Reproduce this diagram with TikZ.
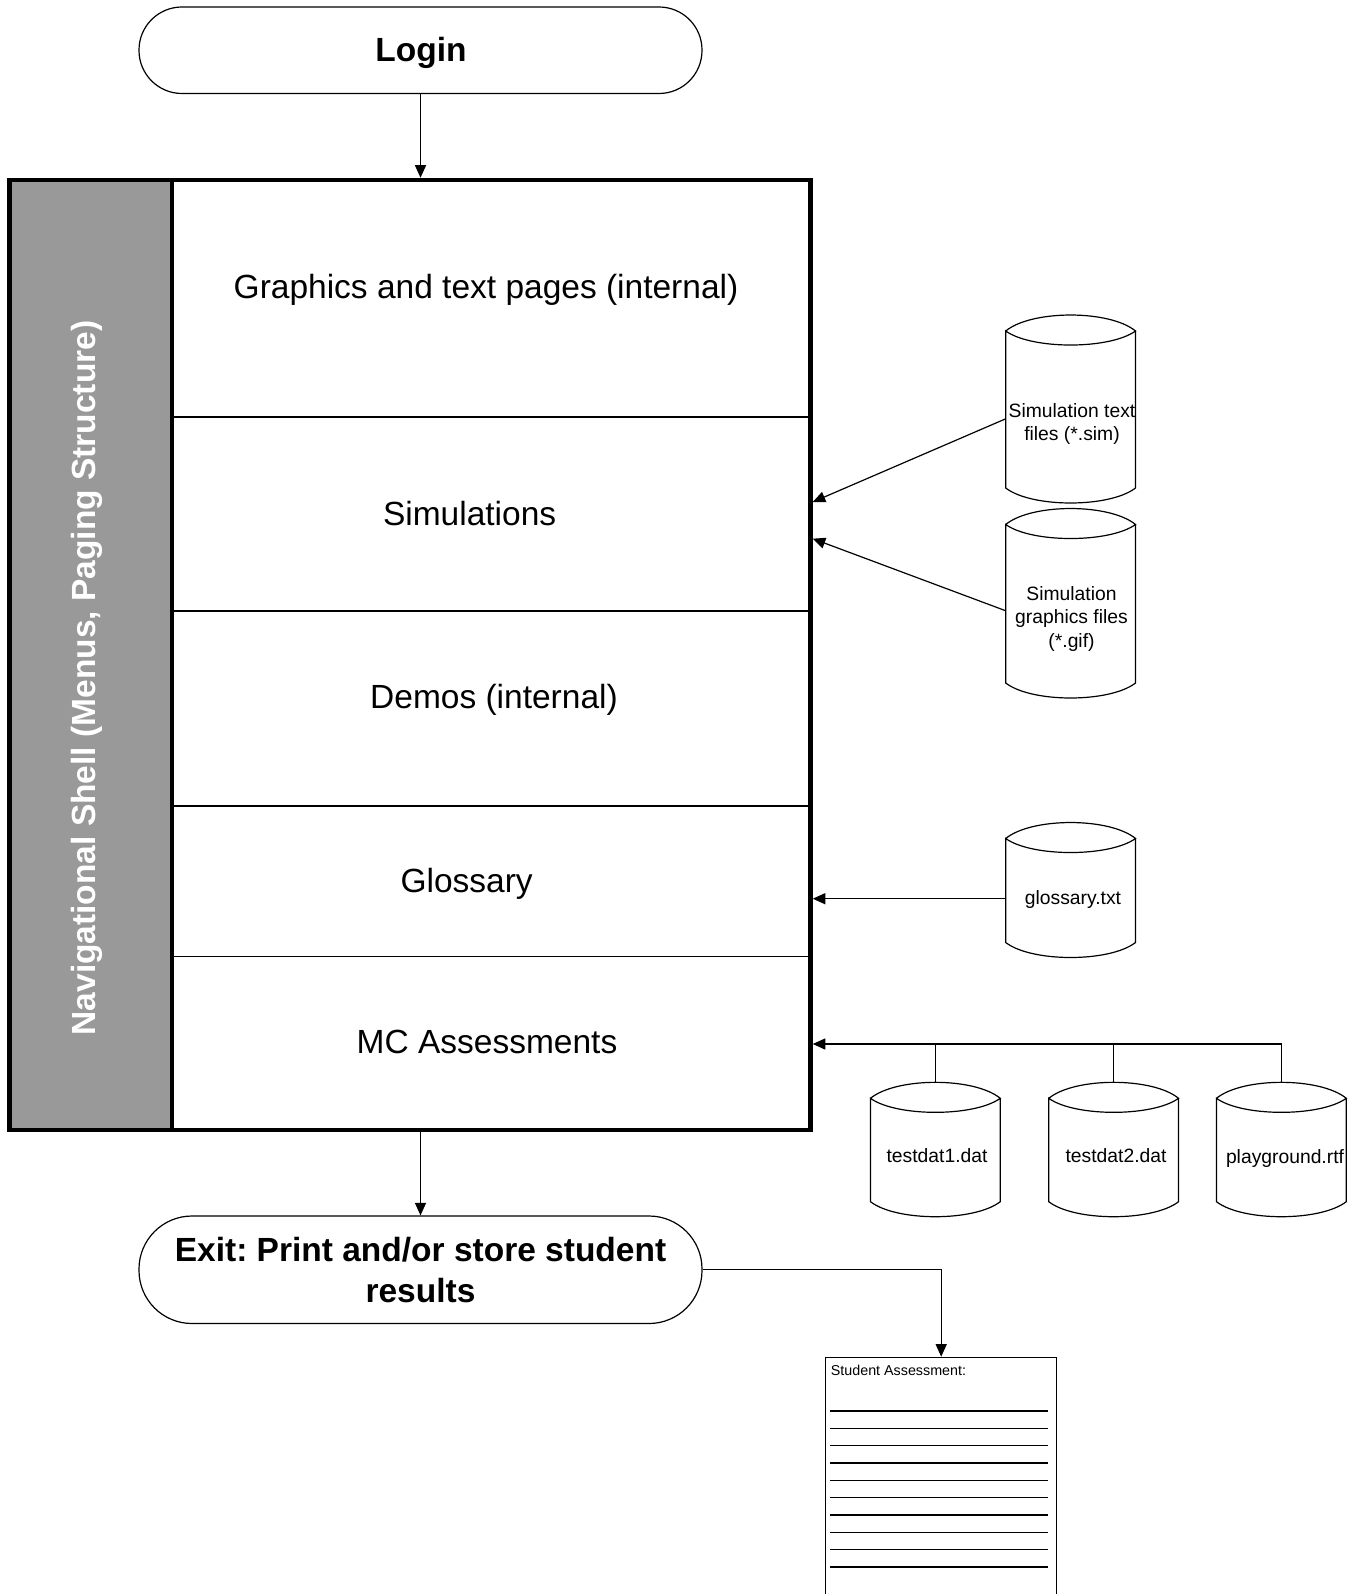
\documentclass[tikz,border=0pt]{standalone}
\usepackage{fontspec}
\setmainfont{Liberation Sans}
\usetikzlibrary{arrows.meta}
\definecolor{navgray}{HTML}{999999}
\frenchspacing
\newcommand\drawcyl[1]{%
  \draw[thinln] (#1.north west) .. controls +(26,-21.3) and +(-26,-21.3) .. (#1.north east)
     .. controls +(-26,18.7) and +(26,18.7) .. (#1.north west) -- (#1.south west)
     .. controls +(26,20) and +(-26,20) .. (#1.south east) -- (#1.north east);}
\begin{document}
\begin{tikzpicture}[x=1pt,y=-1pt,
  thinln/.style={line width=1.2pt},
  arr/.style={line width=1.2pt,-{Triangle[length=12.5pt,width=11pt]}},
  cylbody/.style={minimum width=129.8pt, inner sep=0pt, outer sep=0pt},
  bigtxt/.style={font=\fontsize{33.5}{40.7}\selectfont, inner sep=0pt},
  bigbold/.style={font=\fontsize{33.5}{40.7}\selectfont\bfseries, inner sep=0pt},
  smtxt/.style={font=\fontsize{19.3}{23.4}\selectfont, align=center, inner sep=0pt}]
\useasboundingbox (0,0) rectangle (1354,1594);
\clip (0,0) rectangle (1354,1594);
\fill[white] (0,0) rectangle (1354,1594);

% login
\node[draw, thinln, rounded corners=43pt, minimum width=563pt, minimum height=86.5pt,
      inner sep=0pt, bigbold] (login) at (420.5,50.25) {};
\node[bigbold] (logint) at (421,52.5) {Login};

% main shell
\fill[navgray] (9.5,180) rectangle (172,1130);
\draw[line width=1.8pt] (172,416.8) -- (810.5,416.8);
\draw[line width=1.8pt] (172,610.9) -- (810.5,610.9);
\draw[line width=1.8pt] (172,806.1) -- (810.5,806.1);
\draw[line width=1.8pt] (172,956.5) -- (810.5,956.5);
\draw[line width=4.5pt] (172,180) -- (172,1130);
\node[draw, line width=4.5pt, minimum width=801pt, minimum height=950pt, inner sep=0pt] (shell) at (410,655) {};

\node[bigbold, text=white, rotate=90] (nav) at (87,678) {Navigational Shell (Menus, Paging Structure)};
\node[bigtxt] (gfx) at (486,290) {Graphics and text pages (internal)};
\node[bigtxt] (sims) at (469.6,513.3) {Simulations};
\node[bigtxt] (demo) at (494,700.3) {Demos (internal)};
\node[bigtxt] (glos) at (466.6,884.3) {Glossary};
\node[bigtxt] (mc) at (487,1042) {MC Assessments};

% exit
\node[draw, thinln, rounded corners=53pt, minimum width=563pt, minimum height=107.5pt,
      inner sep=0pt, align=center, bigbold] (exit) at (420.5,1269.75)
      {Exit: Print and/or store student\\results};

% cylinders
\node[cylbody, minimum height=157pt] (c1) at (1070.6,409.5) {};
\node[cylbody, minimum height=158.5pt] (c2) at (1070.6,603.75) {};
\node[cylbody, minimum height=104pt] (c3) at (1070.6,890.5) {};
\node[cylbody, minimum height=103.4pt] (t1) at (935.35,1150) {};
\node[cylbody, minimum height=103.4pt] (t2) at (1113.65,1150) {};
\node[cylbody, minimum height=103.4pt] (t3) at (1281.35,1150) {};
\drawcyl{c1}\drawcyl{c2}\drawcyl{c3}\drawcyl{t1}\drawcyl{t2}\drawcyl{t3}

\node[smtxt] (c1t) at (1072,424.3) {Simulation text\\files (*.sim)};
\node[smtxt] (c2t) at (1071.5,619) {Simulation\\graphics files\\(*.gif)};
\node[smtxt] (c3t) at (1073,900) {glossary.txt};
\node[smtxt] (t1t) at (937,1155.8) {testdat1.dat};
\node[smtxt] (t2t) at (1116,1155.8) {testdat2.dat};
\node[smtxt] (t3t) at (1285,1158.8) {playground.rtf};

% document
\node[draw, thinln, minimum width=231pt, minimum height=300pt, inner sep=0pt, anchor=north] (doc) at (941.2,1356.7) {};
\foreach \k in {0,...,9} \draw[line width=1.5pt] (830,{1411+17.33*\k}) -- (1048,{1411+17.33*\k});
\node[font=\fontsize{14.3}{17}\selectfont, anchor=base west, inner sep=0pt] (doct) at (830.7,1375) {Student Assessment:};

% connectors
\draw[arr] (login.south) -- (login.south |- shell.north);
\draw[arr] (exit.north |- shell.south) -- (exit.north);
\draw[arr] (exit.east) -| (doc.north);
\draw[arr] ([yshift=-9.3pt]c1.west) -- ([yshift=153pt]shell.east);
\draw[arr] ([yshift=-7pt]c2.west) -- ([yshift=116.3pt]shell.east);
\draw[arr] ([yshift=-8.2pt]c3.west) -- ([yshift=-243.7pt]shell.east);
\draw[arr] ([yshift=16pt]t3.north) |- ([yshift=-389pt]shell.east);
\draw[thinln] ([yshift=16pt]t1.north) -- ++(0,-38.3);
\draw[thinln] ([yshift=16pt]t2.north) -- ++(0,-38.3);
\end{tikzpicture}
\end{document}
